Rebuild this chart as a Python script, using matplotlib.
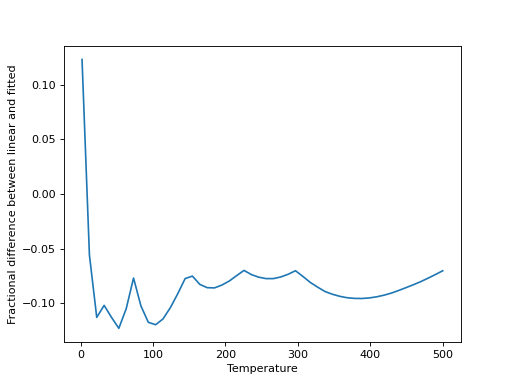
import matplotlib
matplotlib.use("Agg")
import matplotlib.pyplot as plt

temperature = [2, 12.2, 22.3, 32.5, 42.7, 52.8, 63, 73.1, 83.3, 93.5,
               103.6, 113.8, 124, 134.1, 144.3, 154.4, 164.6, 174.8, 184.9, 195.1,
               205.3, 215.4, 225.6, 235.7, 245.9, 256.1, 266.2, 276.4, 286.6, 296.7,
               306.9, 317.1, 327.2, 337.4, 347.6, 357.7, 367.9, 378, 388.2, 398.4,
               408.5, 418.7, 428.9, 439, 449.2, 459.4, 469.5, 479.7, 489.8, 500]
frac_diff = [0.123, -0.056, -0.113, -0.102, -0.113, -0.123, -0.105, -0.077, -0.1025, -0.1175,
             -0.1197, -0.1144, -0.104, -0.0914, -0.0775, -0.0752, -0.0828, -0.0858, -0.0860, -0.0834,
             -0.0797, -0.0748, -0.0700, -0.0738, -0.0762, -0.0775, -0.0775, -0.0760, -0.0735, -0.0703,
             -0.0755, -0.0810, -0.0853, -0.0893, -0.0918, -0.0937, -0.0950, -0.0956, -0.0957, -0.0952,
             -0.0942, -0.0927, -0.0908, -0.0884, -0.0858, -0.0831, -0.0803, -0.0771, -0.0738, -0.0703]

fig, ax = plt.subplots(figsize=(6.4, 4.8), dpi=80)
ax.plot(temperature, frac_diff)
ax.set_xlabel("Temperature")
ax.set_ylabel("Fractional difference between linear and fitted")
fig.savefig("out.png", dpi=80)
